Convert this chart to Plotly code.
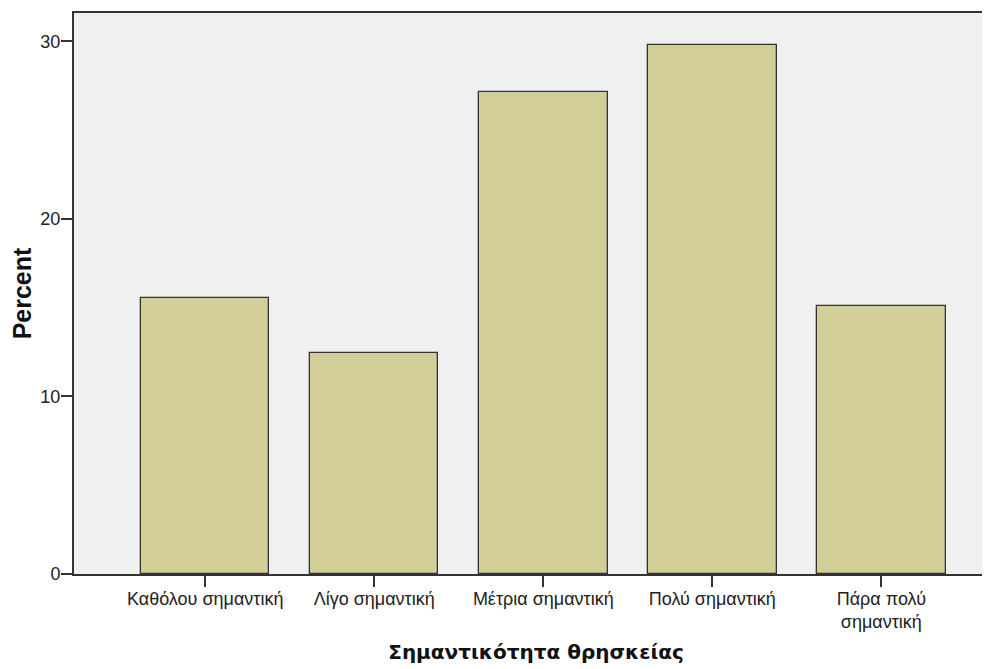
import plotly.graph_objects as go

categories = ["Καθόλου σημαντική", "Λίγο σημαντική", "Μέτρια σημαντική",
              "Πολύ σημαντική", "Πάρα πολύ<br>σημαντική"]
percent = [15.57, 12.44, 27.13, 29.82, 15.11]
y_ticks = [0, 10, 20, 30]

fig = go.Figure(go.Bar(
    x=categories, y=percent, width=0.76,
    marker=dict(color="#D2CE98", line=dict(color="#333333", width=1.3)),
))

# page body has an 8px default margin, so margins are reduced by 8px
fig.update_layout(
    width=990, height=669,
    margin=dict(l=66, r=0, t=5, b=103, autoexpand=False),
    paper_bgcolor="white", plot_bgcolor="#F0F0F0",
    showlegend=False, bargap=0,
    font=dict(family="Liberation Sans, Arial, sans-serif", color="#222222"),
)
fig.update_xaxes(
    type="category", range=[-0.776, 4.69],
    showline=True, linecolor="#333333", linewidth=2, mirror=True,
    ticks="outside", ticklen=11, tickwidth=1.5, tickcolor="#333333",
    tickfont=dict(size=18), ticklabelstandoff=-4,
    showgrid=False, zeroline=False,
    title=dict(text="Σημαντικότητα θρησκείας",
               font=dict(family="DejaVu Sans, sans-serif", size=20, color="#111111", weight="bold"),
               standoff=14),
)
fig.update_yaxes(
    range=[0, 31.6], tickvals=y_ticks,
    showline=True, linecolor="#333333", linewidth=2, mirror=False,
    ticks="outside", ticklen=11, tickwidth=1.5, tickcolor="#333333",
    tickfont=dict(size=18), ticklabelstandoff=-3,
    showgrid=False, zeroline=False,
    title=dict(text="Percent",
               font=dict(family="Liberation Sans, Arial, sans-serif", size=25, color="#111111", weight="bold"),
               standoff=10),
)

fig.write_html("out.html")
